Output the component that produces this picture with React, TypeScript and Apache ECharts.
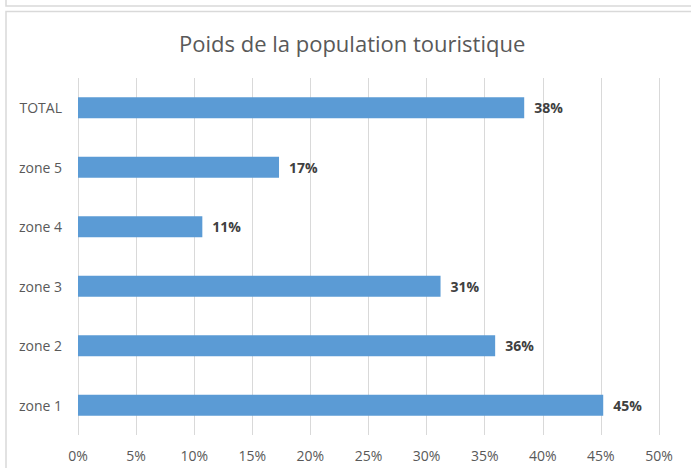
import React, { useEffect, useRef } from "react";
import * as echarts from "echarts";

const categories = ["zone 1", "zone 2", "zone 3", "zone 4", "zone 5", "TOTAL"];
const values = [0.452, 0.359, 0.312, 0.107, 0.173, 0.384];
const title = "Poids de la population touristique";
const FONT = "'Open Sans', 'Noto Sans', sans-serif";

export default function App() {
  const ref = useRef<HTMLDivElement>(null);
  useEffect(() => {
    if (!ref.current) return;
    const chart = echarts.init(ref.current, null, { renderer: "svg" });
    chart.setOption({
      animation: false,
      backgroundColor: "#ffffff",
      textStyle: { fontFamily: FONT },
      title: {
        text: title,
        left: 174,
        top: 27,
        textStyle: { fontSize: 22, fontWeight: "normal", color: "#595959", fontFamily: FONT },
      },
      graphic: [
        {
          type: "rect",
          shape: { x: 6, y: -10, width: 700, height: 16 },
          style: { fill: "none", stroke: "#d9d9d9", lineWidth: 1.5 },
          silent: true,
        },
        {
          type: "rect",
          shape: { x: 6, y: 11.5, width: 700, height: 470 },
          style: { fill: "none", stroke: "#d9d9d9", lineWidth: 1.5 },
          silent: true,
        },
      ],
      grid: { left: 78, right: 32, top: 78, bottom: 33, containLabel: false },
      xAxis: {
        type: "value",
        min: 0,
        max: 0.5,
        interval: 0.05,
        axisLine: { show: false },
        axisTick: { show: false },
        splitLine: { lineStyle: { color: "#d9d9d9", width: 1 } },
        axisLabel: {
          margin: 13,
          fontSize: 14,
          color: "#595959",
          fontFamily: FONT,
          formatter: (v: number) => Math.round(v * 100) + "%",
        },
      },
      yAxis: {
        type: "category",
        data: categories,
        axisLine: { show: false },
        axisTick: { show: false },
        splitLine: { show: false },
        axisLabel: { margin: 16, fontSize: 14, color: "#595959", fontFamily: FONT },
      },
      series: [
        {
          type: "bar",
          data: values,
          barWidth: "35%",
          itemStyle: { color: "#5b9bd5" },
          label: {
            show: true,
            position: "right",
            distance: 10,
            fontSize: 14,
            fontWeight: "bold",
            color: "#404040",
            fontFamily: FONT,
            formatter: (p: any) => Math.round(p.value * 100) + "%",
          },
        },
      ],
    });
    return () => chart.dispose();
  }, []);
  return (
    <div
      ref={ref}
      style={{ position: "fixed", left: 0, top: 0, width: 691, height: 468, background: "#fff" }}
    />
  );
}
